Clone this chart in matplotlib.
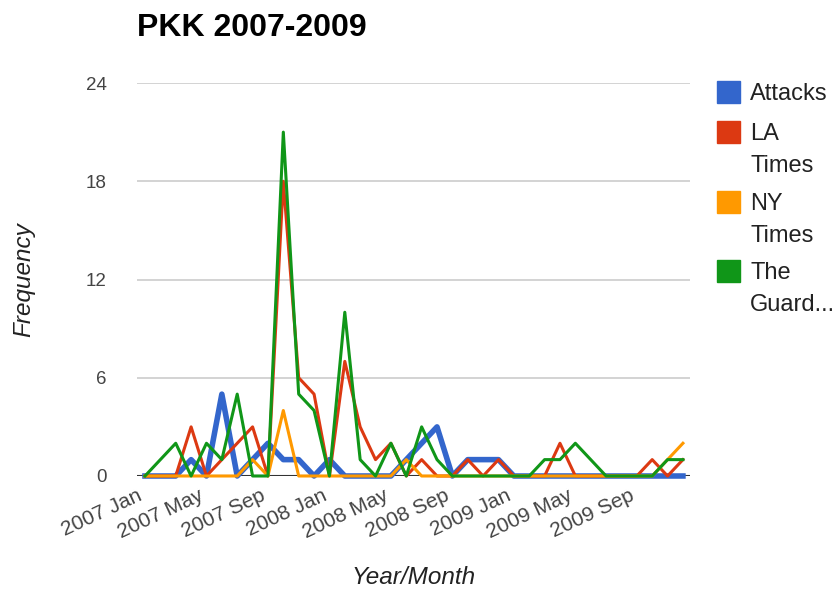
import matplotlib
matplotlib.use("Agg")
import matplotlib.pyplot as plt
from matplotlib.patches import Rectangle
from matplotlib.transforms import ScaledTranslation

plt.rcParams['font.family'] = ['Liberation Sans', 'DejaVu Sans']

# monthly counts, 2007 Jan .. 2009 Dec
months = [f"{y} {m}" for y in (2007, 2008, 2009)
          for m in ("Jan", "Feb", "Mar", "Apr", "May", "Jun",
                    "Jul", "Aug", "Sep", "Oct", "Nov", "Dec")]

attacks = [0, 0, 0, 1, 0, 5, 0, 1, 2, 1, 1, 0,
           1, 0, 0, 0, 0, 1, 2, 3, 0, 1, 1, 1,
           0, 0, 0, 0, 0, 0, 0, 0, 0, 0, 0, 0]
la_times = [0, 0, 0, 3, 0, 1, 2, 3, 0, 18, 6, 5,
            0, 7, 3, 1, 2, 0, 1, 0, 0, 1, 0, 1,
            0, 0, 0, 2, 0, 0, 0, 0, 0, 1, 0, 1]
ny_times = [0, 0, 0, 0, 0, 0, 0, 1, 0, 4, 0, 0,
            0, 0, 0, 0, 0, 1, 0, 0, 0, 0, 0, 0,
            0, 0, 0, 0, 0, 0, 0, 0, 0, 0, 1, 2]
guardian = [0, 1, 2, 0, 2, 1, 5, 0, 0, 21, 5, 4,
            0, 10, 1, 0, 2, 0, 3, 1, 0, 0, 0, 0,
            0, 0, 1, 1, 2, 1, 0, 0, 0, 0, 1, 1]

series = [("Attacks", attacks, "#3366cc", 4.0),
          ("LA\nTimes", la_times, "#dc3912", 2.2),
          ("NY\nTimes", ny_times, "#ff9900", 2.2),
          ("The\nGuard...", guardian, "#109618", 2.2)]

yticks = [0, 6, 12, 18, 24]

fig = plt.figure(figsize=(8.38, 5.90), dpi=100)
ax = fig.add_axes([137 / 838, 1 - 476 / 590, 553 / 838, 393 / 590])

x = list(range(len(months)))
for name, vals, col, lw in series:
    ax.plot(x, vals, color=col, lw=lw, solid_joinstyle='round', clip_on=False)

ax.set_xlim(-0.52, 35.46)
ax.set_ylim(0, 24)
ax.set_yticks(yticks)
ax.set_yticklabels([str(v) for v in yticks], fontsize=13.5, color='#444444')
ax.set_xticks(x[::4])
ax.set_xticklabels(months[::4], rotation=25, ha='right', fontsize=15,
                   color='#444444')
shift = ScaledTranslation(8 / 100, 0, fig.dpi_scale_trans)
for lab in ax.get_xticklabels():
    lab.set_transform(lab.get_transform() + shift)
ax.tick_params(length=0, axis='y', pad=22)
ax.tick_params(length=0, axis='x', pad=7)
for s in ax.spines.values():
    s.set_visible(False)
ax.grid(axis='y', color='#cccccc', lw=1.2)
ax.set_axisbelow(True)
ax.axhline(0, color='#333333', lw=1.5, zorder=1)

ax.set_xlabel("Year/Month", fontsize=17.5, style='italic', color='#222222')
ax.xaxis.set_label_coords(0.5, -(578 - 476) / 393, transform=ax.transAxes)
ax.xaxis.label.set_va('center')
ax.set_ylabel("Frequency", fontsize=17.5, style='italic', color='#222222')
ax.yaxis.set_label_coords(-(137 - 24) / 553, 0.5, transform=ax.transAxes)
ax.yaxis.label.set_va('center')

fig.text(137 / 838, 1 - 28 / 590, "PKK 2007-2009", fontsize=23, fontweight='bold',
         ha='left', va='center')

# legend on the right
ly = [92, 132, 202, 271]
for (name, vals, col, lw), y in zip(series, ly):
    fig.patches.append(Rectangle((717 / 838, 1 - (y + 11) / 590), 23 / 838, 22 / 590,
                                 transform=fig.transFigure, color=col))
    fig.text(750 / 838, 1 - (y - 9.5) / 590, name, fontsize=17, color='#222222',
             ha='left', va='top', linespacing=1.6)

fig.savefig("out.png", dpi=100)
